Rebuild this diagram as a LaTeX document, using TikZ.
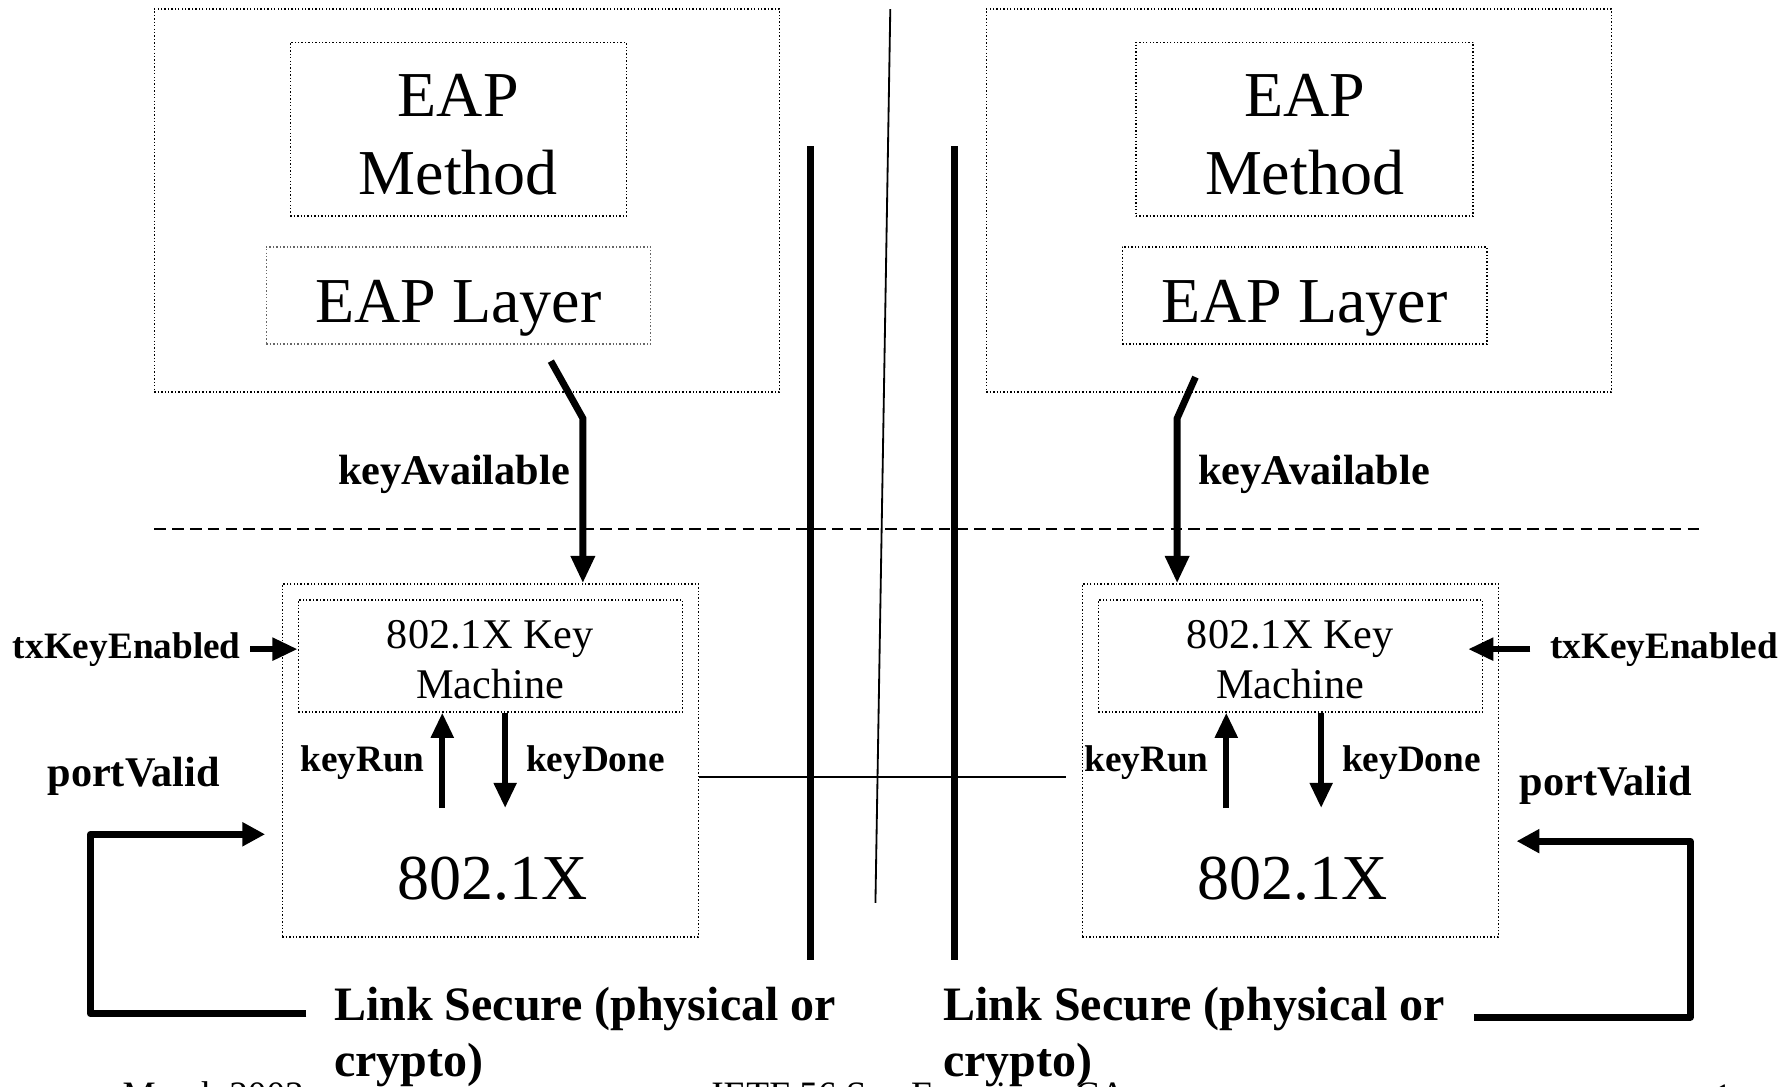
\documentclass[tikz,border=0pt]{standalone}
\usepackage{fontspec}
\setmainfont{Liberation Serif}
\usetikzlibrary{arrows.meta,positioning}

\tikzset{
  dotbox/.style={draw, dash pattern=on 0.6pt off 0.9pt, line width=0.6pt, inner sep=0pt},
  bigtxt/.style={font=\fontsize{28}{34}\selectfont, align=center, inner sep=0pt},
  kmtxt/.style={font=\fontsize{18.5}{22}\selectfont, align=center, inner sep=0pt},
  lbl/.style={font=\fontsize{16.3}{19}\selectfont\bfseries, inner sep=0pt},
  biglbl/.style={font=\fontsize{18.5}{22}\selectfont\bfseries, inner sep=0pt},
  linktxt/.style={font=\fontsize{21}{24.5}\selectfont\bfseries, align=left, inner sep=0pt},
  foot/.style={font=\fontsize{16.3}{19}\selectfont, inner sep=0pt},
  fat/.style={line width=3pt, -{Triangle[length=12pt,width=10pt]}},
  mid/.style={line width=2.6pt, -{Triangle[length=11pt,width=9.5pt]}},
  wide/.style={line width=3pt, line join=round, -{Triangle[length=10pt,width=10pt]}}
}

\begin{document}
\begin{tikzpicture}[x=0.5pt,y=-0.5pt]
  \useasboundingbox (0,0) rectangle (1568,951);

  % EAP stacks
  \node[dotbox, minimum width=273.5pt, minimum height=167.5pt] (eapL) at (408.5,175.5) {};
  \node[dotbox, minimum width=147pt, minimum height=76pt] (methL) at (401,113) {};
  \node[dotbox, draw=black!60, minimum width=168pt, minimum height=42.5pt] (layL) at (401,258.5) {};
  \node[bigtxt, anchor=base] (methLt) at (401,170) {EAP\\Method};
  \node[bigtxt, anchor=base] (layLt) at (401,282) {EAP Layer};

  \node[dotbox, minimum width=273.5pt, minimum height=167.5pt] (eapR) at (1136.5,175.5) {};
  \node[dotbox, minimum width=147.5pt, minimum height=76pt] (methR) at (1141.5,113) {};
  \node[dotbox, minimum width=159.5pt, minimum height=42.5pt] (layR) at (1141.5,258.5) {};
  \node[bigtxt, anchor=base] (methRt) at (1141.5,170) {EAP\\Method};
  \node[bigtxt, anchor=base] (layRt) at (1141.5,282) {EAP Layer};

  % 802.1X boxes
  \node[dotbox, minimum width=182pt, minimum height=154.5pt] (pxL) at (429,665.5) {};
  \node[dotbox, minimum width=168pt, minimum height=49pt] (kmL) at (429,574) {};
  \node[kmtxt, anchor=base] (kmLt) at (429,611) {802.1X Key\\Machine};
  \node[bigtxt, anchor=base] (dotxL) at (431,787) {802.1X};

  \node[dotbox, minimum width=182pt, minimum height=154.5pt] (pxR) at (1129,665.5) {};
  \node[dotbox, minimum width=168pt, minimum height=49pt] (kmR) at (1129,574) {};
  \node[kmtxt, anchor=base] (kmRt) at (1129,611) {802.1X Key\\Machine};
  \node[bigtxt, anchor=base] (dotxR) at (1131,787) {802.1X};

  % walls
  \draw[line width=3pt] (709,128) -- (709,840);
  \draw[line width=3pt] (835,128) -- (835,840);
  \draw[line width=0.8pt] (779,8) -- (766,790);
  \draw[line width=1pt, dash pattern=on 5.1pt off 2.7pt] (135,463) -- (1490,463);

  % keyAvailable
  \coordinate (kaL) at (482,316);
  \coordinate (kaLb) at (510,366);
  \draw[fat] (kaL) -- (kaLb) -- (kaLb |- pxL.north);
  \node[biglbl, anchor=base east] (kavL) at (499,424) {keyAvailable};

  \coordinate (kaR) at (1046,330);
  \coordinate (kaRb) at (1030,366);
  \draw[fat] (kaR) -- (kaRb) -- (kaRb |- pxR.north);
  \node[biglbl, anchor=base west] (kavR) at (1048,424) {keyAvailable};

  % txKeyEnabled
  \node[lbl, anchor=east] (txL) at (211,568) {txKeyEnabled};
  \draw[mid] ([xshift=4pt]txL.east) -- (txL.east -| kmL.west);
  \node[lbl, anchor=west] (txR) at (1356,568) {txKeyEnabled};
  \draw[mid] ([xshift=-8.5pt]txR.west) -- ([xshift=-6.5pt]txR.west -| kmR.east);

  % keyRun / keyDone
  \coordinate (krL) at (387,707);
  \coordinate (kdL) at (442,707);
  \draw[mid] (krL) -- (krL |- kmL.south);
  \draw[mid] (kdL |- kmL.south) -- (kdL);
  \node[lbl, anchor=east] (krtL) at (372,667) {keyRun};
  \node[lbl, anchor=west] (kdtL) at (460,667) {keyDone};

  \coordinate (krR) at (1073,707);
  \coordinate (kdR) at (1156,707);
  \draw[mid] (krR) -- (krR |- kmR.south);
  \draw[mid] (kdR |- kmR.south) -- (kdR);
  \node[lbl, anchor=east] (krtR) at (1058,667) {keyRun};
  \node[lbl, anchor=west] (kdtR) at (1174,667) {keyDone};

  \coordinate (hl) at (933,680);
  \draw[line width=0.8pt] (hl -| pxL.east) -- (hl);

  % portValid loops
  \node[biglbl] (pvL) at (117,679) {portValid};
  \coordinate (lsL) at (268,887);
  \coordinate (pvLc) at (79,730);
  \coordinate (pvLe) at (232,730);
  \draw[wide] (lsL) -- (lsL -| pvLc) -- (pvLc) -- (pvLe);

  \node[biglbl] (pvR) at (1405,687) {portValid};
  \coordinate (lsR) at (1290,890);
  \coordinate (pvRc) at (1479,736);
  \coordinate (pvRe) at (1327,736);
  \draw[wide] (lsR) -- (lsR -| pvRc) -- (pvRc) -- (pvRe);

  \node[linktxt, anchor=base west] (lsecL) at (292,942) {Link Secure (physical or\\crypto)};
  \node[linktxt, anchor=base west] (lsecR) at (825,942) {Link Secure (physical or\\crypto)};

  % footer, cut by the page edge
  \node[foot, anchor=base west] (date) at (107,969) {March 2003};
  \node[foot, anchor=base west] (venue) at (622,969) {IETF 56 San Francisco, CA};
  \node[foot, anchor=base west] (page) at (1499,971) {1};
\end{tikzpicture}
\end{document}
